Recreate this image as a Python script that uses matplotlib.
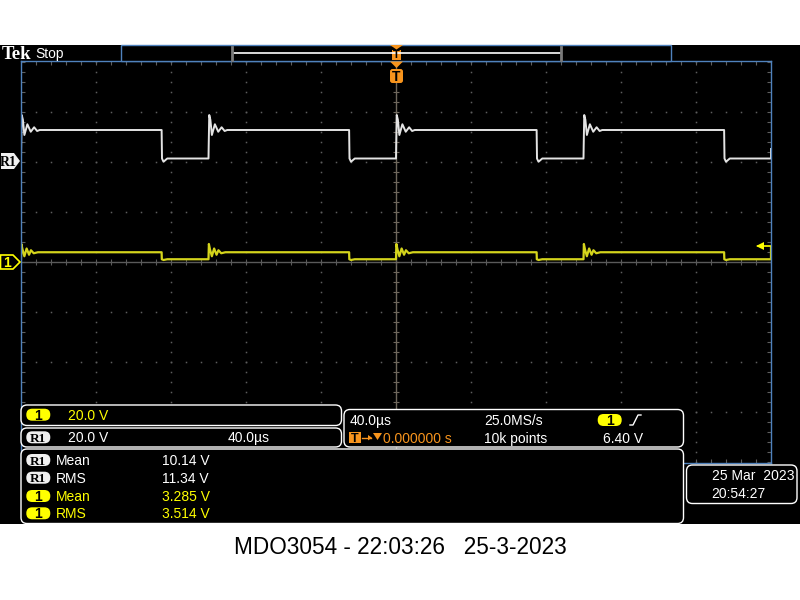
import matplotlib
matplotlib.use('Agg')
import matplotlib.pyplot as plt
from matplotlib.patches import Rectangle, FancyBboxPatch, Polygon
import numpy as np

plt.rcParams['font.family'] = ['Liberation Sans', 'DejaVu Sans']

# scope settings
time_per_div_us = 40.0
volts_per_div = 20.0
r1_ground_div = 2.02
ch1_ground_div = 0.0
trig_level_v = 6.40

# rising edges of the 10 kHz signal (us, trigger at 0)
rise_edges_us = [-200, -100, 0, 100]

# one period of the reference trace R1, time after rising edge (us) and volts
r1_shape_t = [0.0, 0.1, 0.4, 1.0, 1.8, 3.4, 5.2, 7.0, 8.6, 10.0, 75.0, 75.2, 76.0, 78.0, 100.0]
r1_shape_v = [1.0, 6.0, 18.4, 16.5, 10.4, 14.7, 11.7, 13.5, 12.0, 12.4, 12.4, 1.0, -0.3, 1.0, 1.0]
r1_end_v = 4.8

# one period of channel 1
ch1_shape_t = [0.0, 0.2, 0.8, 1.8, 3.0, 4.3, 5.3, 6.8, 9.0, 75.0, 75.1, 76.0, 78.0, 100.0]
ch1_shape_v = [1.1, 7.2, 5.0, 2.3, 5.4, 2.9, 4.7, 3.5, 3.9, 3.9, 1.1, 0.8, 1.1, 1.1]
ch1_end_v = 6.0

# readouts
meas_src = ['R1', 'R1', '1', '1']
meas_name = ['Mean', 'RMS', 'Mean', 'RMS']
meas_value = ['10.14 V', '11.34 V', '3.285 V', '3.514 V']
footer = 'MDO3054 - 22:03:26   25-3-2023'

BLUE = '#4f82bd'
YEL = '#ffff00'
YEL_TRACE = '#d4d41c'
WHITE_TRACE = '#e4e4e4'
ORANGE = '#f7941d'
GRID = '#5e5e5e'


def build_trace(shape_t, shape_v, end_v):
    t, v = [], []
    for e in rise_edges_us:
        t += [e + s for s in shape_t]
        v += list(shape_v)
    t.append(200.0)
    v.append(end_v)
    return np.array(t), np.array(v)


fig = plt.figure(figsize=(8, 6), dpi=100, facecolor='white')

# background layer in pixel coordinates
bg = fig.add_axes([0, 0, 1, 1], zorder=0)
bg.set_xlim(0, 800)
bg.set_ylim(600, 0)
bg.axis('off')
bg.add_patch(Rectangle((0, 45), 800, 479, fc='#000000', ec='none'))

# graticule
ax = fig.add_axes([21 / 800, (600 - 463) / 600, 750 / 800, 402 / 600], zorder=1)
ax.set_facecolor('#000000')
ax.set_xlim(-200, 200)
ax.set_ylim(-4.02, 4.02)
ax.set_xticks([])
ax.set_yticks([])
for s in ax.spines.values():
    s.set_color(BLUE)
    s.set_linewidth(1.0)

dot_y = np.arange(-4, 4.01, 0.2)
dot_x = np.arange(-200, 200.1, 8)
for gx in [-160, -120, -80, -40, 40, 80, 120, 160]:
    ax.plot(np.full(len(dot_y), gx), dot_y, ls='none', marker='s', ms=1.1, mew=0, color=GRID)
for gy in [-3, -2, -1, 1, 2, 3]:
    ax.plot(dot_x, np.full(len(dot_x), gy), ls='none', marker='s', ms=1.1, mew=0, color=GRID)

ax.axhline(0, color='#5a5a5a', lw=1.0)
ax.axvline(0, color='#6e675c', lw=1.0)
ax.plot(dot_x, np.zeros(len(dot_x)), ls='none', marker='|', ms=5, mew=0.8, color='#5a5a5a')
ax.plot(np.zeros(len(dot_y)), dot_y, ls='none', marker='_', ms=5, mew=0.8, color='#6e675c')
for ex in [-200, 200]:
    ax.plot(np.full(len(dot_y), ex), dot_y, ls='none', marker='_', ms=6, mew=0.8, color=GRID)
for ey in [-4.02, 4.02]:
    ax.plot(dot_x, np.full(len(dot_x), ey), ls='none', marker='|', ms=6, mew=0.8, color=GRID)

# traces
t, v = build_trace(r1_shape_t, r1_shape_v, r1_end_v)
ax.plot(t, v / volts_per_div + r1_ground_div, color=WHITE_TRACE, lw=1.4)
t, v = build_trace(ch1_shape_t, ch1_shape_v, ch1_end_v)
ax.plot(t, v / volts_per_div + ch1_ground_div, color=YEL_TRACE, lw=1.6)

# trigger level arrow
ty = trig_level_v / volts_per_div + ch1_ground_div
ax.plot([193, 200], [ty, ty], color=YEL, lw=1.2)
ax.plot([194], [ty], marker='<', ms=6, color=YEL, mew=0)

# foreground layer in pixel coordinates
fg = fig.add_axes([0, 0, 1, 1], zorder=2)
fg.set_xlim(0, 800)
fg.set_ylim(600, 0)
fg.axis('off')
fg.patch.set_alpha(0)

# top bar
fg.text(2, 59.3, 'Tek', color='white', fontsize=13.5, fontweight='bold', family='Liberation Serif')
fg.text(35, 58.3, 'Stop', color='white', fontsize=10)
fg.add_patch(Rectangle((121, 45), 549.5, 16, fc='#000000', ec=BLUE, lw=1.0))
fg.plot([233, 560], [52.5, 52.5], color='white', lw=1.2)
for bx in [232, 561]:
    fg.plot([bx, bx], [46.5, 59.5], color='#7a7a7a', lw=2)

# trigger position markers
fg.add_patch(Polygon([(390, 45), (403, 45), (396.5, 49.5)], fc=ORANGE, ec='none'))
fg.add_patch(Rectangle((392, 49.5), 9, 10.5, fc=ORANGE, ec='none'))
fg.text(396.5, 58.5, 'T', color='black', fontsize=8, fontweight='bold', ha='center')
fg.add_patch(Polygon([(390, 61.5), (403, 61.5), (396.5, 68)], fc=ORANGE, ec='none'))
fg.add_patch(FancyBboxPatch((390, 69), 13, 14, boxstyle='round,pad=0,rounding_size=2.5', fc=ORANGE, ec='none'))
fg.text(396.5, 81, 'T', color='black', fontsize=10, fontweight='bold', ha='center')

# channel ground markers
r1_y = 262 - r1_ground_div * 50
fg.add_patch(Polygon([(1, r1_y - 8), (14, r1_y - 8), (20, r1_y), (14, r1_y + 8), (1, r1_y + 8)],
                     fc='#f0f0f0', ec='none', joinstyle='round'))
fg.text(8, r1_y + 5, 'R1', color='black', fontsize=10, fontweight='bold', ha='center',
        family='Liberation Serif')
c1_y = 262 - ch1_ground_div * 50
fg.add_patch(Polygon([(0.5, c1_y - 7), (13, c1_y - 7), (20, c1_y), (13, c1_y + 7), (0.5, c1_y + 7)],
                     fc='#000000', ec=YEL, lw=1.2))
fg.text(7.5, c1_y + 5, '1', color=YEL, fontsize=10, fontweight='bold', ha='center')


def panel(x, y, w, h):
    fg.add_patch(FancyBboxPatch((x, y), w, h, boxstyle='round,pad=0,rounding_size=6',
                                fc='#000000', ec='white', lw=1.0))


def badge(cx, cy, label, face):
    fg.add_patch(FancyBboxPatch((cx - 12, cy - 6), 24, 12, boxstyle='round,pad=0,rounding_size=5.9',
                                fc=face, ec='none'))
    size = 10 if label == '1' else 9.5
    fg.text(cx, cy + 4.8, label, color='black', fontsize=size, fontweight='bold', ha='center',
            family='Liberation Serif' if label == 'R1' else None)


def txt(x, cy, s, color='white', size=10):
    fg.text(x, cy + 5, s, color=color, fontsize=size, va='baseline')


panel(21, 405, 320.5, 20.5)
panel(21, 428, 320.5, 19)
panel(344, 409.5, 339.5, 37.5)
panel(21, 449, 662.5, 74.5)
panel(686.5, 465, 110.5, 38.5)

badge(38.3, 414.7, '1', YEL)
txt(67.7, 414.7, '20.0 V', YEL)
badge(38.3, 437.3, 'R1', '#f0f0f0')
txt(67.7, 437.3, '20.0 V')
txt(227.7, 437.3, '40.0µs')

txt(350, 420, '40.0µs')
txt(484.3, 420, '25.0MS/s')
badge(609.7, 420, '1', YEL)
fg.plot([630, 633, 638, 641], [425, 425, 415, 415], color='white', lw=1.0)

fg.add_patch(Rectangle((349.3, 432), 11.4, 11.3, fc=ORANGE, ec='none'))
fg.text(355, 441.5, 'T', color='black', fontsize=9, fontweight='bold', ha='center')
fg.plot([361.5, 371], [437.7, 437.7], color=ORANGE, lw=1.0)
fg.add_patch(Polygon([(368, 435), (372, 437.7), (368, 440.4)], fc=ORANGE, ec='none'))
fg.add_patch(Polygon([(373, 433), (382, 433), (377.5, 440)], fc=ORANGE, ec='none'))
txt(383.3, 437.7, '0.000000 s', ORANGE)
txt(484.3, 437.7, '10k points')
txt(603.3, 437.7, '6.40 V')

row_y = [460, 477.7, 496, 513.3]
for src, name, val, ry in zip(meas_src, meas_name, meas_value, row_y):
    col = YEL if src == '1' else 'white'
    badge(38.3, ry, src, YEL if src == '1' else '#f0f0f0')
    txt(55.7, ry, name, col)
    txt(161.7, ry, val, col)

txt(711.7, 475.5, '25 Mar  2023')
txt(711.7, 493.5, '20:54:27')

fg.text(400, 554.5, footer, color='black', fontsize=16.3, ha='center', va='baseline')

fig.savefig('out.png', dpi=100, facecolor='white')
